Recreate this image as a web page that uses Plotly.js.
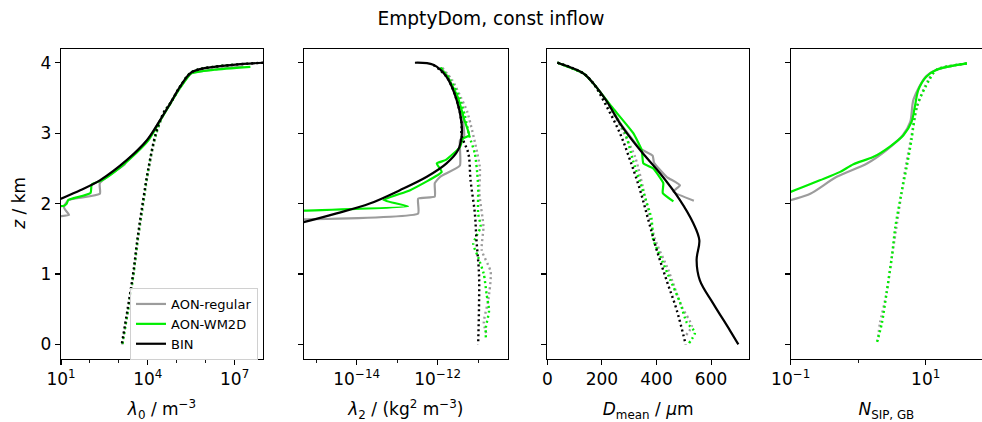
<!DOCTYPE html>
<html>
<head>
<meta charset="utf-8">
<script src="https://cdn.plot.ly/plotly-3.0.1.min.js"></script>
<style>
html,body{margin:0;padding:0;overflow:hidden;background:#fff;}
#chart{width:982px;height:422px;}
</style>
</head>
<body>
<div id="chart"></div>
<script>
// ---------------- data ----------------
const seriesNames = ['AON-regular', 'AON-WM2D', 'BIN'];
const seriesColors = ['#9c9c9c', '#00ee00', '#000000'];

// Panel 1: lambda_0 / m^-3  (solid)
const z_l0_reg = [3.95, 3.90, 3.85, 3.66, 3.42, 3.19, 2.90, 2.62, 2.56, 2.29, 2.14, 2.05, 1.95, 1.91, 1.84, 1.82, 1.81];
const l0_reg   = [2.0e7, 1.6e6, 3.2e5, 1.35e5, 5.9e4, 2.7e4, 9.5e3, 2.0e3, 1.6e3, 2.2e2, 2.2e2, 17.8, 12.6, 14.1, 19, 10, 3];
const z_l0_wm  = [3.94, 3.90, 3.85, 3.66, 3.42, 3.19, 2.90, 2.62, 2.45, 2.33, 2.27, 2.15, 2.05, 2.00, 1.97, 1.96];
const l0_wm    = [3.5e7, 2.0e6, 3.2e5, 1.4e5, 6.0e4, 2.8e4, 1.05e4, 2.2e3, 7.1e2, 2.6e2, 1.15e2, 1.05e2, 17.8, 15.8, 12.6, 2.5];
const z_l0_bin = [4.00, 3.97, 3.91, 3.85, 3.66, 3.42, 3.19, 2.90, 2.62, 2.33, 2.19, 2.07, 1.95];
const l0_bin   = [9.8e7, 8.9e6, 6.5e5, 2.9e5, 1.3e5, 5.9e4, 2.7e4, 9.3e3, 1.9e3, 2.2e2, 46, 10, 2];
// Panel 1 (dotted)
const z_l0_reg_d = [3.97, 3.91, 3.85, 3.66, 3.42, 3.30, 3.0, 2.5, 2.0, 1.5, 1.0, 0.7, 0.5, 0.0];
const l0_reg_d   = [8.5e6, 6.3e5, 2.9e5, 1.3e5, 5.8e4, 3.8e4, 2.0e4, 1.08e4, 7.0e3, 4.6e3, 3.2e3, 2.5e3, 2.1e3, 1.3e3];
const z_l0_wm_d  = [3.97, 3.91, 3.85, 3.66, 3.42, 3.30, 3.0, 2.5, 2.0, 1.5, 1.0, 0.5, 0.0];
const l0_wm_d    = [8.9e6, 6.5e5, 2.9e5, 1.3e5, 5.9e4, 3.7e4, 1.95e4, 1.05e4, 6.8e3, 4.5e3, 3.2e3, 2.1e3, 1.32e3];
const z_l0_bin_d = [4.00, 3.97, 3.91, 3.85, 3.66, 3.42, 3.30, 3.0, 2.5, 2.0, 1.5, 1.0, 0.5, 0.0];
const l0_bin_d   = [9.8e7, 8.9e6, 6.5e5, 2.9e5, 1.3e5, 5.9e4, 3.6e4, 1.9e4, 1.05e4, 6.6e3, 4.4e3, 3.1e3, 2.0e3, 1.26e3];

// Panel 2: lambda_2 / (kg^2 m^-3)
const z_l2_reg = [3.93, 3.80, 3.50, 3.20, 2.95, 2.90, 2.54, 2.38, 2.29, 2.10, 2.07, 1.86, 1.775, 1.77];
const l2_reg   = [1.2e-12, 1.8e-12, 3.1e-12, 4.2e-12, 4.5e-12, 3.55e-12, 3.55e-12, 1.15e-12, 8.5e-13, 8.5e-13, 3.3e-13, 3.3e-13, 5.2e-16, 2.5e-16];
const z_l2_wm  = [3.93, 3.80, 3.50, 3.20, 2.97, 2.92, 2.80, 2.62, 2.57, 2.45, 2.19, 2.05, 1.96, 1.90, 1.89];
const l2_wm    = [1.15e-12, 1.74e-12, 3.2e-12, 4.5e-12, 6.0e-12, 4.2e-12, 3.55e-12, 1.6e-12, 9.5e-13, 1.26e-12, 2.1e-13, 4.6e-14, 1.86e-13, 5.2e-16, 2.5e-16];
const z_l2_bin = [4.00, 3.97, 3.80, 3.47, 3.14, 2.95, 2.76, 2.57, 2.38, 2.19, 2.00, 1.86, 1.74, 1.70];
const l2_bin   = [2.75e-13, 7.8e-13, 1.66e-12, 2.95e-12, 3.9e-12, 3.9e-12, 3.2e-12, 1.66e-12, 5.4e-13, 1.17e-13, 2.1e-14, 3.2e-15, 5.2e-16, 2.5e-16];
// Panel 2 (dotted)
const z_l2_reg_d = [3.93, 3.75, 3.50, 3.30, 2.52, 2.15, 1.67, 1.34, 1.03, 0.63, 0.31, 0.14];
const l2_reg_d   = [1.3e-12, 2.3e-12, 3.8e-12, 5.4e-12, 1.1e-11, 1.07e-11, 1.35e-11, 1.23e-11, 2.04e-11, 1.78e-11, 1.38e-11, 1.62e-11];
const z_l2_wm_d  = [3.93, 3.75, 3.50, 3.25, 2.97, 2.71, 2.43, 2.24, 1.86, 1.67, 1.43, 1.24, 1.00, 0.71, 0.48, 0.24, 0.10];
const l2_wm_d    = [1.2e-12, 2.1e-12, 3.5e-12, 4.7e-12, 6.0e-12, 8.3e-12, 9.5e-12, 1.0e-11, 1.0e-11, 1.15e-11, 7.6e-12, 1.0e-11, 1.38e-11, 1.62e-11, 1.86e-11, 1.55e-11, 1.55e-11];
const z_l2_bin_d = [3.97, 3.80, 3.47, 3.14, 2.97, 2.71, 2.33, 1.86, 1.48, 1.00, 0.54, 0.00];
const l2_bin_d   = [7.8e-13, 1.66e-12, 2.95e-12, 3.9e-12, 3.9e-12, 5.75e-12, 6.5e-12, 8.3e-12, 9.1e-12, 1.05e-11, 1.05e-11, 1.0e-11];

// Panel 3: D_mean / um
const z_d_reg = [4.00, 3.85, 3.71, 3.45, 3.14, 2.78, 2.68, 2.58, 2.38, 2.26, 2.17, 2.04];
const d_reg   = [37, 132, 168, 220, 268, 340, 386, 391, 437, 486, 462, 537];
const z_d_wm  = [4.00, 3.85, 3.71, 3.375, 3.00, 2.76, 2.57, 2.50, 2.29, 2.15, 2.03];
const d_wm    = [37, 132, 168, 236, 315, 346, 352, 388, 425, 423, 462];
const z_d_bin = [4.00, 3.85, 3.71, 3.45, 3.14, 2.76, 2.43, 2.05, 1.72, 1.48, 1.20, 0.91, 0.58, 0.20, 0.00];
const d_bin   = [37, 132, 168, 218, 266, 340, 413, 486, 535, 557, 547, 559, 608, 669, 700];
// Panel 3 (dotted)
const z_d_reg_d = [4.00, 3.85, 3.71, 3.28, 2.67, 2.00, 1.49, 1.06, 0.54, 0.26, 0.11];
const d_reg_d   = [37, 132, 168, 242, 321, 364, 395, 443, 492, 529, 504];
const z_d_wm_d  = [4.00, 3.85, 3.71, 3.375, 3.00, 2.60, 2.16, 1.78, 1.49, 1.26, 0.93, 0.60, 0.31, 0.17, 0.00];
const d_wm_d    = [37, 132, 168, 230, 285, 315, 352, 382, 388, 413, 449, 486, 511, 541, 516];
const z_d_bin_d = [4.00, 3.85, 3.71, 3.375, 3.00, 2.62, 2.19, 1.77, 1.34, 0.91, 0.49, 0.00];
const d_bin_d   = [37, 132, 168, 218, 266, 303, 340, 370, 401, 437, 474, 507];

// Panel 4: N_SIP,GB
const z_n_reg = [3.99, 3.90, 3.80, 3.48, 3.16, 2.97, 2.76, 2.57, 2.38, 2.14, 2.05, 1.98];
const n_reg   = [40.7, 14.5, 10.0, 6.6, 5.9, 4.57, 2.63, 1.35, 0.48, 0.195, 0.102, 0.063];
const z_n_wm  = [3.99, 3.90, 3.80, 3.61, 3.38, 3.16, 2.97, 2.81, 2.66, 2.56, 2.45, 2.33, 2.17, 2.10];
const n_wm    = [40.7, 14.5, 10.2, 7.76, 6.92, 6.17, 4.68, 2.95, 1.66, 0.85, 0.54, 0.27, 0.102, 0.063];
const z_n_reg_d = [3.99, 3.90, 3.75, 3.40, 2.90, 2.50, 2.10, 1.60, 1.20, 0.70, 0.30, 0.05];
const n_reg_d   = [40.7, 14.5, 10.8, 7.6, 6.0, 5.0, 4.3, 3.6, 3.1, 2.6, 2.1, 1.95];
const z_n_wm_d  = [3.99, 3.90, 3.75, 3.38, 2.91, 2.53, 2.15, 1.67, 1.25, 0.73, 0.30, 0.00];
const n_wm_d    = [40.7, 14.5, 11.2, 7.4, 6.17, 5.25, 4.37, 3.55, 3.16, 2.63, 2.24, 1.86];

// tick labels
const l0Ticks = [10, 1e4, 1e7], l0TickText = ['10<sup>1</sup>', '10<sup>4</sup>', '10<sup>7</sup>'];
const l0Minor = [100, 1000, 1e5, 1e6, 1e8];
const l2Ticks = [1e-14, 1e-12], l2TickText = ['10<sup>\u221214</sup>', '10<sup>\u221212</sup>'];
const l2Minor = [1e-15, 1e-13, 1e-11];
const dTicks = [0, 200, 400, 600];
const nTicks = [0.1, 10], nTickText = ['10<sup>\u22121</sup>', '10<sup>1</sup>'];
const nMinor = [1, 100];
const zTicks = [0, 1, 2, 3, 4];

// ---------------- figure ----------------
const W = 982, H = 422;
const yDom = [1 - 358.5 / H, 1 - 49 / H];
function xd(a, b) { return [a / W, Math.min(b / W, 1)]; }

// smooth: spline smoothing amount (0 = straight segments)
function tr(x, y, i, ax, dotted, smooth, legend) {
  const line = { color: seriesColors[i], width: dotted ? 2.4 : 2.2, dash: dotted ? '2px,3px' : 'solid' };
  if (smooth > 0) { line.shape = 'spline'; line.smoothing = smooth; }
  return {
    x: x, y: y, type: 'scatter', mode: 'lines',
    xaxis: 'x' + ax, yaxis: 'y' + ax,
    name: seriesNames[i], legendgroup: seriesNames[i],
    showlegend: !!legend, hoverinfo: 'skip', line: line
  };
}
const data = [
  tr(l0_reg, z_l0_reg, 0, '', false, 0.5, true),
  tr(l0_wm, z_l0_wm, 1, '', false, 0.5, true),
  tr(l0_reg_d, z_l0_reg_d, 0, '', true, 1),
  tr(l0_wm_d, z_l0_wm_d, 1, '', true, 1),
  tr(l0_bin_d, z_l0_bin_d, 2, '', true, 1),
  tr(l0_bin, z_l0_bin, 2, '', false, 1, true),

  tr(l2_reg, z_l2_reg, 0, '2', false, 0.4),
  tr(l2_reg_d, z_l2_reg_d, 0, '2', true, 0.6),
  tr(l2_wm, z_l2_wm, 1, '2', false, 0.4),
  tr(l2_wm_d, z_l2_wm_d, 1, '2', true, 0.6),
  tr(l2_bin_d, z_l2_bin_d, 2, '2', true, 1),
  tr(l2_bin, z_l2_bin, 2, '2', false, 1),

  tr(d_reg, z_d_reg, 0, '3', false, 0.4),
  tr(d_reg_d, z_d_reg_d, 0, '3', true, 0.6),
  tr(d_wm, z_d_wm, 1, '3', false, 0.4),
  tr(d_wm_d, z_d_wm_d, 1, '3', true, 0.6),
  tr(d_bin_d, z_d_bin_d, 2, '3', true, 1),
  tr(d_bin, z_d_bin, 2, '3', false, 1),

  tr(n_reg, z_n_reg, 0, '4', false, 0.8),
  tr(n_reg_d, z_n_reg_d, 0, '4', true, 0.8),
  tr(n_wm, z_n_wm, 1, '4', false, 0.8),
  tr(n_wm_d, z_n_wm_d, 1, '4', true, 0.8)
];

const tickFont = { family: 'DejaVu Sans', size: 17, color: '#000' };
const titleFont = { family: 'DejaVu Sans', size: 17, color: '#000' };
function xax(dom, anchor, extra) {
  return Object.assign({
    domain: dom, anchor: anchor, showgrid: false, zeroline: false,
    showline: true, mirror: true, linecolor: '#000', linewidth: 1.2,
    ticks: 'outside', ticklen: 5, tickwidth: 1.1, tickcolor: '#000',
    tickfont: tickFont, fixedrange: true
  }, extra);
}
function yax(anchor, showLabels, mirror, extra) {
  return Object.assign({
    domain: yDom, anchor: anchor, range: [-0.2, 4.195], showgrid: false, zeroline: false,
    showline: true, mirror: mirror, linecolor: '#000', linewidth: 1.2,
    ticks: 'outside', ticklen: 5, tickwidth: 1.1, tickcolor: '#000',
    tickmode: 'array', tickvals: zTicks, showticklabels: showLabels,
    tickfont: tickFont, fixedrange: true
  }, extra);
}
const minorStyle = (vals) => ({ tickmode: 'array', tickvals: vals, ticks: 'outside', ticklen: 3, tickwidth: 0.9, tickcolor: '#000', showgrid: false });

const layout = {
  width: W, height: H,
  margin: { l: 0, r: 0, t: 0, b: 0 },
  paper_bgcolor: '#fff', plot_bgcolor: '#fff',
  font: { family: 'DejaVu Sans', color: '#000' },
  title: { text: 'EmptyDom, const inflow', x: 0.5, xref: 'paper', xanchor: 'center',
           y: 1 - 18 / H, yref: 'paper', yanchor: 'middle',
           font: { family: 'DejaVu Sans', size: 18.6, color: '#000' } },
  showlegend: true,
  legend: { x: 130 / W, y: 1 - 288 / H, xanchor: 'left', yanchor: 'top',
            bgcolor: 'rgba(255,255,255,0.85)', bordercolor: '#d0d0d0', borderwidth: 1,
            font: { family: 'DejaVu Sans', size: 13, color: '#000' },
            tracegroupgap: 0, itemwidth: 30 },
  annotations: [{
    text: '<i>z</i> / km', xref: 'paper', yref: 'paper', x: 19 / W, y: (yDom[0] + yDom[1]) / 2,
    xanchor: 'center', yanchor: 'middle', textangle: -90, showarrow: false, font: titleFont
  }],
  xaxis: xax(xd(61, 263), 'y', { type: 'log', range: [1, 7.98], tickmode: 'array', tickvals: l0Ticks, ticktext: l0TickText,
          minor: minorStyle(l0Minor),
          title: { text: '<i>\u03bb</i><sub>0</sub> / m<sup>\u22123</sup>', font: titleFont } }),
  yaxis: yax('x', true, true),
  xaxis2: xax(xd(304, 507.7), 'y2', { type: 'log', range: [-15.3, -10.27], tickmode: 'array', tickvals: l2Ticks, ticktext: l2TickText,
          minor: minorStyle(l2Minor),
          title: { text: '<i>\u03bb</i><sub>2</sub> / (kg<sup>2</sup> m<sup>\u22123</sup>)', font: titleFont } }),
  yaxis2: yax('x2', false, true),
  xaxis3: xax(xd(547.3, 749), 'y3', { range: [0, 739], tickmode: 'array', tickvals: dTicks,
          title: { text: '<i>D</i><sub>mean</sub> / <i>\u03bc</i>m', font: titleFont } }),
  yaxis3: yax('x3', false, true),
  xaxis4: xax(xd(790.7, 982), 'y4', { type: 'log', range: [-1, 1.834], tickmode: 'array', tickvals: nTicks, ticktext: nTickText,
          minor: minorStyle(nMinor),
          title: { text: '<i>N</i><sub>SIP, GB</sub>', font: titleFont } }),
  yaxis4: yax('x4', false, false)
};

Plotly.newPlot('chart', data, layout, { staticPlot: true, displayModeBar: false });
</script>
</body>
</html>
